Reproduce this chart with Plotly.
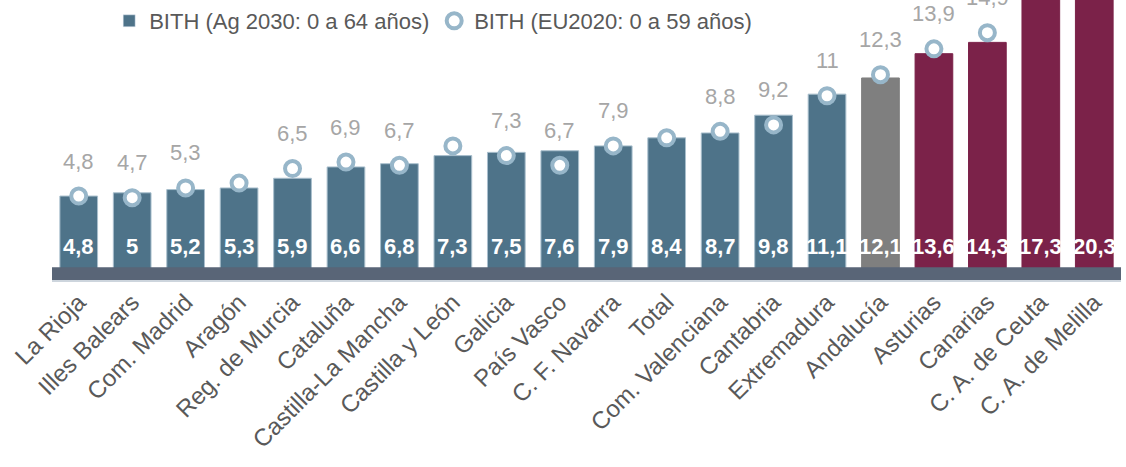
import plotly.graph_objects as go

categories = ["La Rioja", "Illes Balears", "Com. Madrid", "Aragón", "Reg. de Murcia",
              "Cataluña", "Castilla-La Mancha", "Castilla y León", "Galicia", "País Vasco",
              "C. F. Navarra", "Total", "Com. Valenciana", "Cantabria", "Extremadura",
              "Andalucía", "Asturias", "Canarias", "C. A. de Ceuta", "C. A. de Melilla"]
bith_ag2030 = [4.8, 5, 5.2, 5.3, 5.9, 6.6, 6.8, 7.3, 7.5, 7.6, 7.9, 8.4, 8.7, 9.8, 11.1,
               12.1, 13.6, 14.3, 17.3, 20.3]
bith_eu2020 = [4.8, 4.7, 5.3, 5.6, 6.5, 6.9, 6.7, 7.9, 7.3, 6.7, 7.9, 8.4, 8.8, 9.2, 11,
               12.3, 13.9, 14.9, None, None]
# labels shown for the EU2020 series (some were removed in the original)
eu_label_shown = [True, True, True, False, True, True, True, False, True, True, True, False,
                  True, True, True, True, True, True, False, False]
bar_group = ["ccaa"] * 15 + ["andalucia"] + ["high"] * 4

group_colors = {"ccaa": "#4E7389", "andalucia": "#7F7F7F", "high": "#7B2249"}
bar_colors = [group_colors[g] for g in bar_group]
bar_lines = ["#A9BFCD" if g == "ccaa" else c for g, c in zip(bar_group, bar_colors)]

FONT = "Liberation Sans"


def fmt(v):
    s = ("%.1f" % v).rstrip("0").rstrip(".")
    return s.replace(".", ",")


fig = go.Figure()
fig.add_trace(go.Bar(
    x=categories, y=bith_ag2030, name="BITH (Ag 2030: 0 a 64 años)",
    marker=dict(color=bar_colors, line=dict(color=bar_lines, width=1)),
    showlegend=False, hoverinfo="x+y",
))
# legend proxy for the bar series (uses the blue colour)
fig.add_trace(go.Bar(
    x=[categories[0]], y=[None], name="BITH (Ag 2030: 0 a 64 años)",
    marker=dict(color=group_colors["ccaa"]), showlegend=True,
))
fig.add_trace(go.Scatter(
    x=categories, y=bith_eu2020, name="BITH (EU2020: 0 a 59 años)", mode="markers",
    marker=dict(symbol="circle", size=15, color="white",
                line=dict(color="#97B6C9", width=4)),
    cliponaxis=True,
))

annotations = []
for c, v in zip(categories, bith_ag2030):
    annotations.append(dict(
        x=c, y=0, xref="x", yref="y", text="<b>%s</b>" % fmt(v), showarrow=False,
        yanchor="middle", yshift=27, font=dict(family=FONT, size=22, color="white"),
    ))
for c, v, show in zip(categories, bith_eu2020, eu_label_shown):
    if v is None or not show:
        continue
    annotations.append(dict(
        x=c, y=v, xref="x", yref="y", text=fmt(v), showarrow=False,
        yanchor="middle", yshift=35, font=dict(family=FONT, size=22, color="#A6A6A6"),
    ))

fig.update_layout(
    width=1126, height=467,
    margin=dict(l=52, r=5, t=0, b=187),
    paper_bgcolor="white", plot_bgcolor="white",
    bargap=0.295, barmode="overlay",
    font=dict(family=FONT, size=22, color="#595959"),
    legend=dict(orientation="h", x=0.0535, y=0.925, xanchor="left", yanchor="middle",
                font=dict(family=FONT, size=22, color="#595959"), entrywidth=280,
                bgcolor="rgba(0,0,0,0)", itemwidth=30, traceorder="normal"),
    annotations=annotations,
    shapes=[dict(type="line", xref="paper", x0=0, x1=1, yref="y", y0=0, y1=0,
                 line=dict(color="#596577", width=13), layer="above")],
    showlegend=True,
)
fig.update_xaxes(tickangle=-45, tickfont=dict(family=FONT, size=24, color="#595959"),
                 range=[-0.5, len(categories) - 0.5], automargin=False,
                 ticklabelstandoff=-3,
                 showline=True, linecolor="#CDD5DD", linewidth=1.5, showgrid=False,
                 ticks="", ticklen=0)
fig.update_yaxes(range=[-0.39, 16.92], visible=False, showgrid=False, zeroline=False,
                 automargin=False)

fig.write_html("out.html", config={"displayModeBar": False},
               post_script="document.body.style.margin='0';")
